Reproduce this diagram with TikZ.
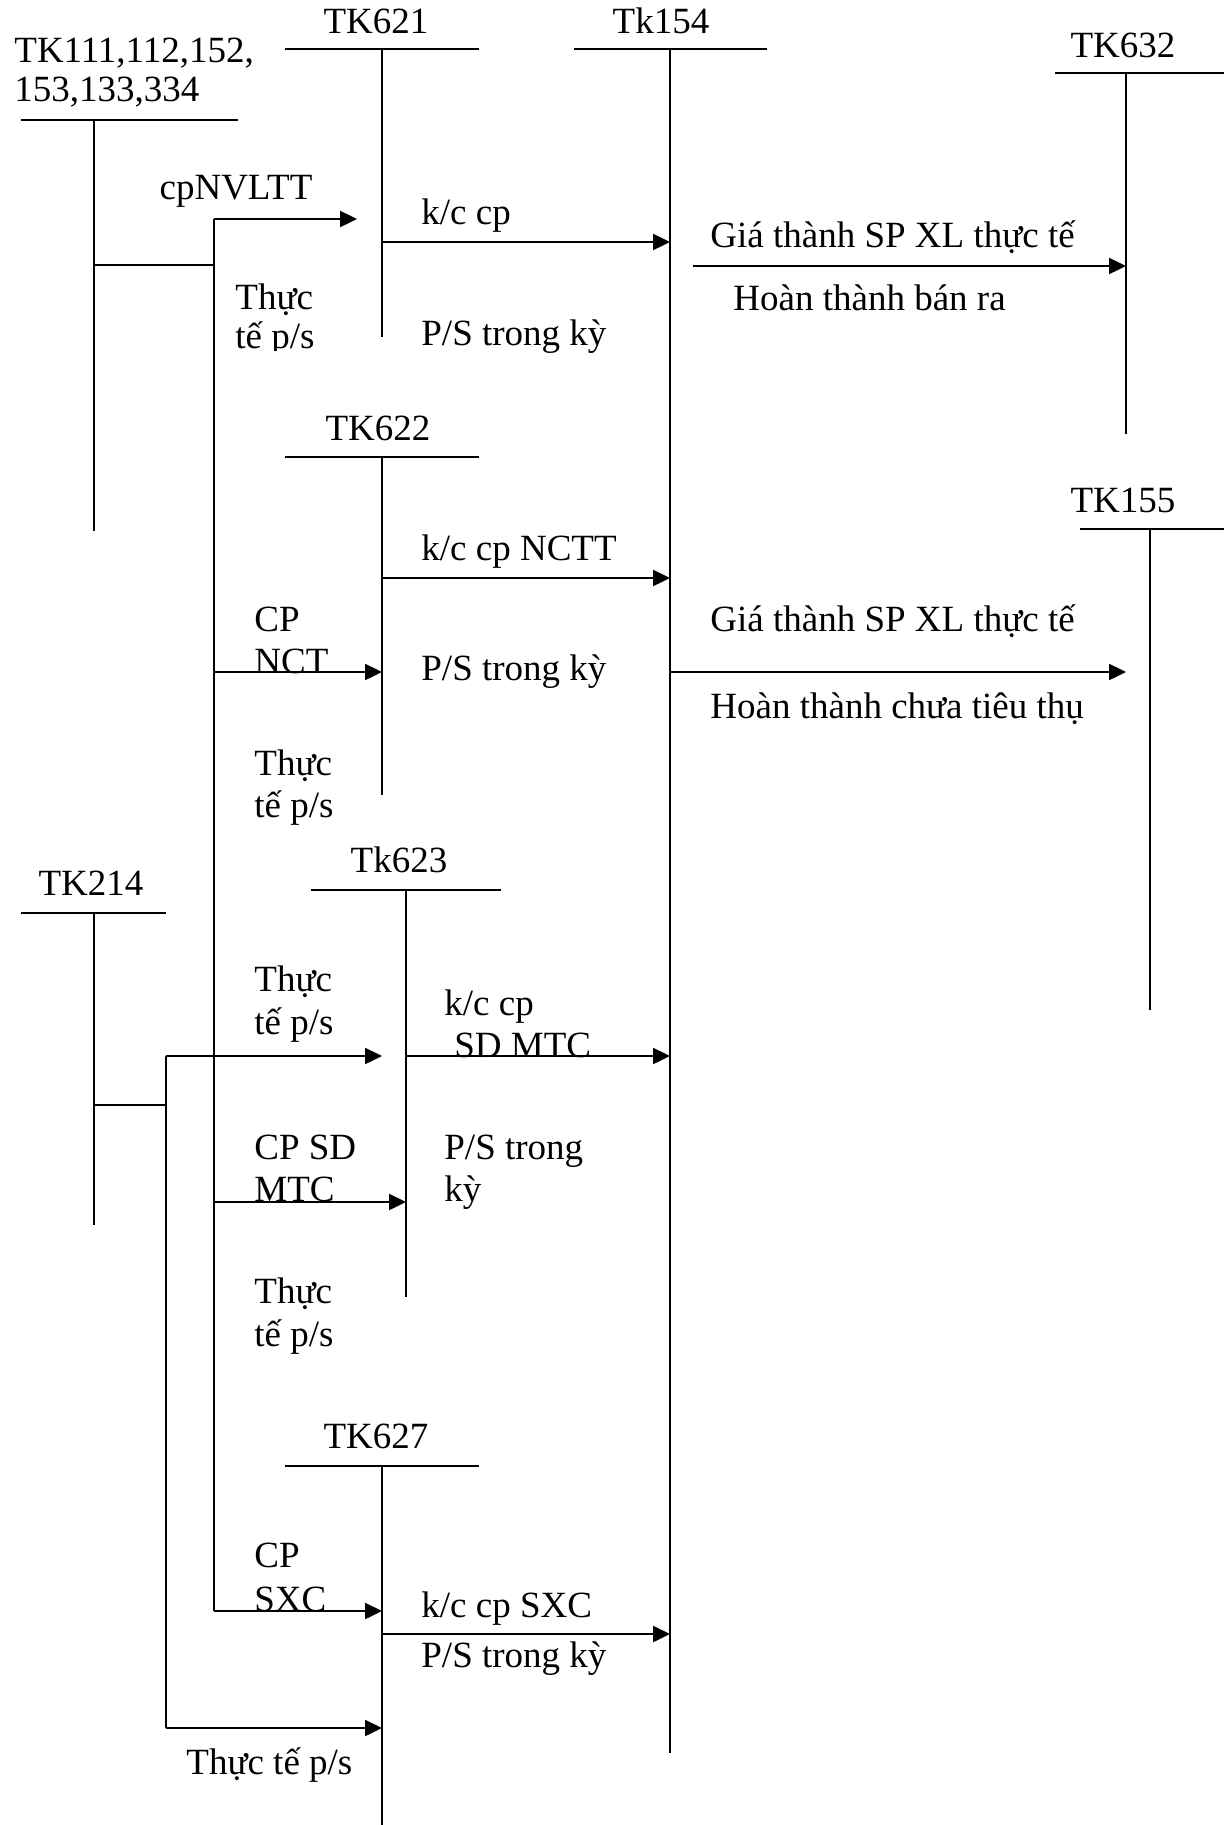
\documentclass[tikz,border=0pt]{standalone}
\usepackage{fontspec}
\setmainfont{Liberation Serif}
\usetikzlibrary{arrows.meta}
\begin{document}
\begin{tikzpicture}[x=0.5pt,y=-0.5pt,
  acc/.style={line width=0.9pt},
  flow/.style={line width=1.2pt,-{Triangle[length=8.5pt,width=8pt]}},
  lbl/.style={anchor=base west,inner sep=0pt,font=\fontsize{18.5}{22}\selectfont},
  ttl/.style={anchor=base,inner sep=0pt,font=\fontsize{18.5}{22}\selectfont}]
\useasboundingbox (0,0) rectangle (1224,1825);

% ---------- account coordinates ----------
% TK111...
\coordinate (aL) at (21,120);   \coordinate (aR) at (238,120);
\coordinate (aT) at (94,120);   \coordinate (aB) at (94,531);
\coordinate (aJ) at (94,265);   \coordinate (mJ) at (214,265);
\coordinate (mT) at (214,219);  \coordinate (mB) at (214,1611);
% TK621
\coordinate (p1L) at (285,49);  \coordinate (p1R) at (479,49);
\coordinate (p1T) at (382,49);  \coordinate (p1B) at (382,337);
% Tk154
\coordinate (sL) at (574,49);   \coordinate (sR) at (767,49);
\coordinate (sT) at (670,49);   \coordinate (sB) at (670,1753);
% TK632
\coordinate (gL) at (1055,73);  \coordinate (gR) at (1224,73);
\coordinate (gT) at (1126,73);  \coordinate (gB) at (1126,434);
% TK622
\coordinate (p2L) at (285,457); \coordinate (p2R) at (479,457);
\coordinate (p2T) at (382,457); \coordinate (p2B) at (382,795);
% TK155
\coordinate (hL) at (1080,529); \coordinate (hR) at (1224,529);
\coordinate (hT) at (1150,529); \coordinate (hB) at (1150,1010);
% Tk623
\coordinate (p3L) at (311,890); \coordinate (p3R) at (501,890);
\coordinate (p3T) at (406,890); \coordinate (p3B) at (406,1297);
% TK214
\coordinate (dL) at (21,913);   \coordinate (dR) at (166,913);
\coordinate (dT) at (94,913);   \coordinate (dB) at (94,1225);
\coordinate (dJ) at (94,1105);  \coordinate (nJ) at (166,1105);
\coordinate (nT) at (166,1056); \coordinate (nB) at (166,1728);
% TK627
\coordinate (p7L) at (285,1466); \coordinate (p7R) at (479,1466);
\coordinate (p7T) at (382,1466); \coordinate (p7B) at (382,1825);

% ---------- T accounts ----------
\foreach \n in {a,p1,s,g,p2,h,p3,d,p7}{
  \draw[acc] (\n L) -- (\n R);
  \draw[acc] (\n T) -- (\n B);
}
\draw[acc] (aJ) -- (mJ);
\draw[acc] (mT) -- (mB);
\draw[acc] (dJ) -- (nJ);
\draw[acc] (nT) -- (nB);

% ---------- arrow end points ----------
\coordinate (e1) at (357,219);
\coordinate (f1s) at (382,242);  \coordinate (f1e) at (670,242);
\coordinate (g1s) at (693,266);  \coordinate (g1e) at (1126,266);
\coordinate (f2s) at (382,578);  \coordinate (f2e) at (670,578);
\coordinate (c2s) at (214,672);  \coordinate (c2e) at (382,672);
\coordinate (h1s) at (670,672);  \coordinate (h1e) at (1126,672);
\coordinate (c3e) at (382,1056);
\coordinate (f3s) at (406,1056); \coordinate (f3e) at (670,1056);
\coordinate (c4s) at (214,1202); \coordinate (c4e) at (406,1202);
\coordinate (c7e) at (382,1611);
\coordinate (f7s) at (382,1634); \coordinate (f7e) at (670,1634);
\coordinate (c8e) at (382,1728);

\draw[flow] (mT) -- (e1);
\draw[flow] (f1s) -- (f1e);
\draw[flow] (g1s) -- (g1e);
\draw[flow] (f2s) -- (f2e);
\draw[flow] (h1s) -- (h1e);
\draw[flow] (nT) -- (c3e);
\draw[flow] (f7s) -- (f7e);
\draw[flow] (nB) -- (c8e);

% ---------- titles ----------
\node[lbl] (t111a) at (14,63) {TK111,112,152,};
\node[lbl] (t111b) at (14,102) {153,133,334};
\node[ttl] (t621) at (376,34) {TK621};
\node[ttl] (t154) at (661,34) {Tk154};
\node[ttl] (t632) at (1123,58) {TK632};
\node[ttl] (t622) at (378,440) {TK622};
\node[ttl] (t155) at (1123,512) {TK155};
\node[ttl] (t623) at (399,872) {Tk623};
\node[ttl] (t214) at (91,895) {TK214};
\node[ttl] (t627) at (376,1448) {TK627};

% ---------- labels ----------
\node[ttl] (l1) at (236,199) {cpNVLTT};
\node[lbl] (l2) at (421,224) {k/c cp};
\node[lbl] (l3a) at (235,309) {Thực};
\begin{scope}
\clip (200,300) rectangle (380,350);
\node[lbl] (l3b) at (235,348) {tế p/s};
\end{scope}
\node[lbl] (l4) at (421,345) {P/S trong kỳ};
\node[lbl] (l5) at (710,247) {Giá thành SP XL thực tế};
\node[lbl] (l6) at (733,310) {Hoàn thành bán ra};

\node[lbl] (l7) at (421,560) {k/c cp NCTT};
\node[lbl] (l8a) at (254,631) {CP};
\node[lbl] (l8b) at (254,673) {NCT};
\node[lbl] (l9) at (421,680) {P/S trong kỳ};
\node[lbl] (l10a) at (254,775) {Thực};
\node[lbl] (l10b) at (254,817) {tế p/s};
\node[lbl] (l11) at (710,631) {Giá thành SP XL thực tế};
\node[lbl] (l12) at (710,718) {Hoàn thành chưa tiêu thụ};

\node[lbl] (l13a) at (254,991) {Thực};
\node[lbl] (l13b) at (254,1034) {tế p/s};
\node[lbl] (l14a) at (444,1015) {k/c cp};
\node[lbl] (l14b) at (454,1057) {SD MTC};
\node[lbl] (l15a) at (254,1159) {CP SD};
\node[lbl] (l15b) at (254,1201) {MTC};
\node[lbl] (l16a) at (444,1159) {P/S trong};
\node[lbl] (l16b) at (444,1201) {kỳ};
\node[lbl] (l17a) at (254,1303) {Thực};
\node[lbl] (l17b) at (254,1346) {tế p/s};

\node[lbl] (l18a) at (254,1567) {CP};
\node[lbl] (l18b) at (254,1611) {SXC};
\node[lbl] (l19) at (421,1617) {k/c cp SXC};
\node[lbl] (l20) at (421,1667) {P/S trong kỳ};
\node[lbl] (l21) at (186,1774) {Thực tế p/s};

% arrows that pass over labels
\draw[flow] (c2s) -- (c2e);
\draw[flow] (f3s) -- (f3e);
\draw[flow] (c4s) -- (c4e);
\draw[flow] (mB) -- (c7e);
\end{tikzpicture}
\end{document}
